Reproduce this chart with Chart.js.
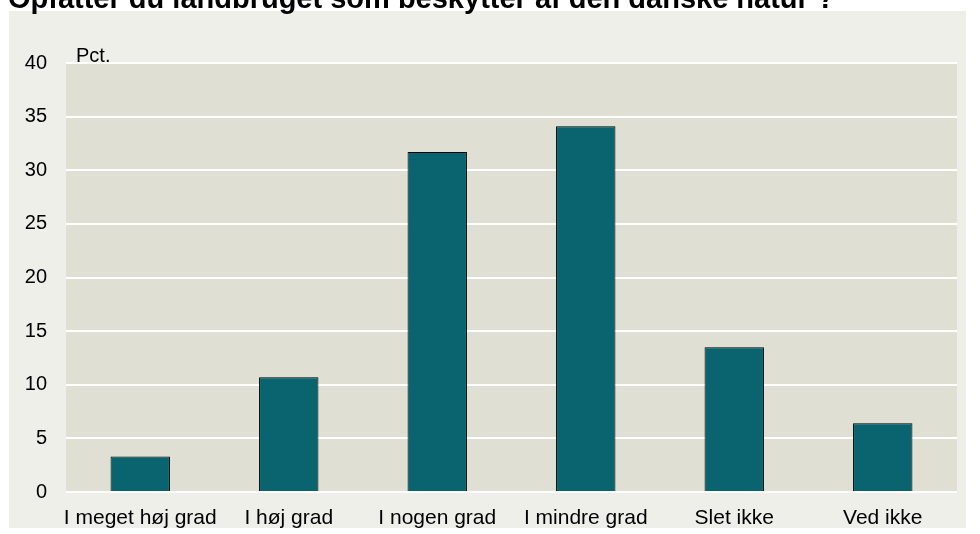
<!DOCTYPE html>
<html>
<head>
<meta charset="utf-8">
<script src="https://cdn.jsdelivr.net/npm/chart.js@4"></script>
<style>
  body { margin: 0; background: #fff; width: 980px; height: 534px; overflow: hidden; position: relative; }
  #title { position: absolute; left: 8px; top: -16px; font: bold 29px/29px "Liberation Sans", Arial, sans-serif; color: #000; white-space: nowrap; }
  #wrap { position: absolute; left: 0; top: 0; width: 980px; height: 534px; }
</style>
</head>
<body>
<div id="wrap"><canvas id="chart" width="980" height="534" aria-label="Bar chart" role="img"></canvas></div>
<div id="title">Opfatter du landbruget som beskytter af den danske natur ?</div>
<script>
const categories = ['I meget høj grad', 'I høj grad', 'I nogen grad', 'I mindre grad', 'Slet ikke', 'Ved ikke'];
const values = [3.3, 10.7, 31.7, 34.1, 13.5, 6.4];
const yTicks = [0, 5, 10, 15, 20, 25, 30, 35, 40];
const unitLabel = 'Pct.';

const panelBg = {
    id: 'panelBg',
    beforeDraw(chart) {
        const { ctx, chartArea } = chart;
        ctx.save();
        ctx.fillStyle = '#efefe9';
        ctx.fillRect(9, 11, 957, 517);
        ctx.fillStyle = '#dfdfd4';
        ctx.fillRect(chartArea.left, chartArea.top, chartArea.right - chartArea.left, chartArea.bottom - chartArea.top);
        ctx.restore();
    },
    afterDraw(chart) {
        const { ctx, chartArea } = chart;
        ctx.save();
        ctx.fillStyle = '#000';
        ctx.font = '20px "Liberation Sans", Arial, sans-serif';
        ctx.textBaseline = 'alphabetic';
        ctx.fillText(unitLabel, chartArea.left + 10, chartArea.top - 1);
        ctx.restore();
    }
};

const fontFamily = '"Liberation Sans", Arial, sans-serif';

new Chart(document.getElementById('chart'), {
    type: 'bar',
    data: {
        labels: categories,
        datasets: [{
            data: values,
            backgroundColor: '#0a6470',
            borderColor: '#000',
            borderWidth: 1,
            barPercentage: 0.4,
            categoryPercentage: 1
        }]
    },
    options: {
        responsive: false,
        animation: false,
        layout: { padding: { left: 9, top: 63, right: 23, bottom: 0 } },
        plugins: { legend: { display: false }, tooltip: { enabled: false } },
        scales: {
            x: {
                grid: { display: false, drawTicks: false },
                border: { display: false },
                ticks: { color: '#000', font: { family: fontFamily, size: 21 }, padding: 14, maxRotation: 0, autoSkip: false },
                afterFit(scale) { scale.height = 42; }
            },
            y: {
                min: 0,
                max: 40,
                afterBuildTicks(scale) { scale.ticks = yTicks.map(v => ({ value: v })); },
                grid: { color: '#ffffff', lineWidth: 2, drawTicks: false },
                border: { display: false },
                ticks: { color: '#000', font: { family: fontFamily, size: 20 }, padding: 19 },
                afterFit(scale) { scale.width = 57; }
            }
        }
    },
    plugins: [panelBg]
});
</script>
</body>
</html>
